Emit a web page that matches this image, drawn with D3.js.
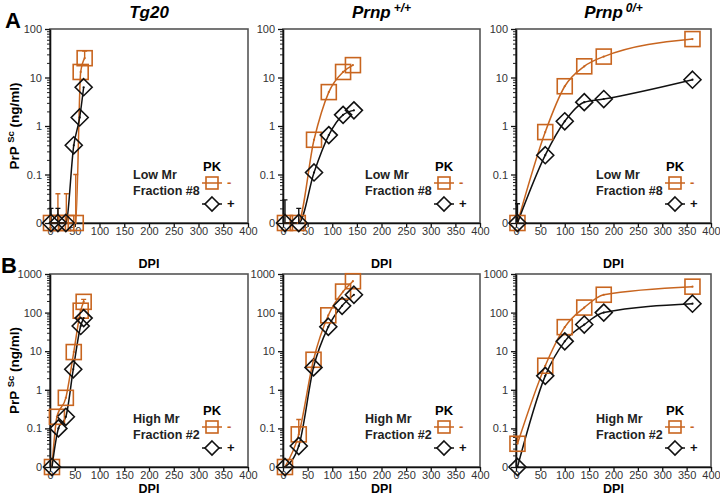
<!DOCTYPE html>
<html>
<head>
  <title></title>
  <style>
    body { margin: 0; background: #fff; }
    text { font-family: Arial, "Liberation Sans", sans-serif; }
  </style>
</head>
<body>
  <svg width="720" height="501"></svg>

  <script src="https://d3js.org/d3.v7.min.js"></script>
  <script>

  // ---- data ----
  var strainNames = ["Tg20", "Prnp", "Prnp"];
  var strainSups = ["", "+/+", "0/+"];
  var fractionNames = ["Low Mr", "High Mr"];
  var fractionNums = ["Fraction #8", "Fraction #2"];
  var rowLetters = ["A", "B"];
  var xTickValues = [0, 50, 100, 150, 200, 250, 300, 350, 400];
  var yTicksLow = [0.01, 0.1, 1, 10, 100];
  var yTicksHigh = [0.01, 0.1, 1, 10, 100, 1000];

  // row A, Low Mr fraction #8   (0 = below detection, drawn on the "0" line)
  var tg20LowMinusDpi = [2, 16, 33, 52, 62, 70];
  var tg20LowMinus    = [0, 0, 0, 0, 13, 25];
  var tg20LowMinusErr = [null, 0.04, 0.04, 0.1, null, 35];
  var tg20LowPlusDpi  = [2, 16, 32, 48, 60, 68];
  var tg20LowPlus     = [0, 0, 0, 0.4, 1.5, 6.3];
  var tg20LowPlusErr  = [0.02, 0.02, null, null, null, null];

  var wtLowMinusDpi = [4, 30, 63, 93, 122, 142];
  var wtLowMinus    = [0, 0, 0.52, 5, 13, 18];
  var wtLowMinusErr = [null, null, null, null, null, null];
  var wtLowPlusDpi  = [4, 32, 63, 93, 122, 144];
  var wtLowPlus     = [0, 0, 0.11, 0.65, 1.7, 2.1];
  var wtLowPlusErr  = [0.03, 0.02, null, null, null, null];

  var hetLowMinusDpi = [3, 60, 100, 140, 180, 362];
  var hetLowMinus    = [0, 0.75, 6.6, 17, 27, 62];
  var hetLowMinusErr = [null, null, null, null, null, null];
  var hetLowPlusDpi  = [3, 60, 100, 140, 180, 362];
  var hetLowPlus     = [0, 0.25, 1.25, 3.1, 3.6, 9];
  var hetLowPlusErr  = [0.025, null, null, null, null, null];

  // row B, High Mr fraction #2
  var tg20HighMinusDpi = [4, 14, 32, 48, 62, 68];
  var tg20HighMinus    = [0, 0.2, 0.62, 9.5, 112, 190];
  var tg20HighMinusErr = [null, null, null, null, null, 220];
  var tg20HighPlusDpi  = [4, 17, 32, 47, 62, 68];
  var tg20HighPlus     = [0, 0.1, 0.2, 3.4, 45, 72];
  var tg20HighPlusErr  = [null, null, null, null, null, null];

  var wtHighMinusDpi = [4, 32, 62, 92, 122, 142];
  var wtHighMinus    = [0, 0.07, 6, 85, 350, 650];
  var wtHighMinusErr = [null, 0.17, null, null, null, null];
  var wtHighPlusDpi  = [4, 32, 62, 92, 120, 144];
  var wtHighPlus     = [0, 0.035, 3.8, 43, 150, 290];
  var wtHighPlusErr  = [null, null, null, null, null, null];

  var hetHighMinusDpi = [3, 60, 100, 140, 180, 362];
  var hetHighMinus    = [0.04, 4.2, 42, 135, 290, 470];
  var hetHighMinusErr = [0.06, null, null, null, null, null];
  var hetHighPlusDpi  = [3, 60, 100, 140, 180, 362];
  var hetHighPlus     = [0, 2.3, 18, 49, 100, 170];
  var hetHighPlusErr  = [null, null, null, null, null, null];

  var orange = "#c8651f";

  var svg = d3.select("svg");

  var rows = [
    { top: 29, bottom: 223, ticks: yTicksLow, dpiY: 268 },
    { top: 274, bottom: 467, ticks: yTicksHigh, dpiY: 493 }
  ];
  var cols = [
    { left: 50, right: 248 },
    { left: 283, right: 480 },
    { left: 516, right: 711 }
  ];

  function series(dpi, val, err) {
    return dpi.map(function(d, i) { return { dpi: d, val: val[i], err: err[i] }; });
  }

  var panels = [
    [ [series(tg20LowMinusDpi, tg20LowMinus, tg20LowMinusErr), series(tg20LowPlusDpi, tg20LowPlus, tg20LowPlusErr)],
      [series(wtLowMinusDpi, wtLowMinus, wtLowMinusErr), series(wtLowPlusDpi, wtLowPlus, wtLowPlusErr)],
      [series(hetLowMinusDpi, hetLowMinus, hetLowMinusErr), series(hetLowPlusDpi, hetLowPlus, hetLowPlusErr)] ],
    [ [series(tg20HighMinusDpi, tg20HighMinus, tg20HighMinusErr), series(tg20HighPlusDpi, tg20HighPlus, tg20HighPlusErr)],
      [series(wtHighMinusDpi, wtHighMinus, wtHighMinusErr), series(wtHighPlusDpi, wtHighPlus, wtHighPlusErr)],
      [series(hetHighMinusDpi, hetHighMinus, hetHighMinusErr), series(hetHighPlusDpi, hetHighPlus, hetHighPlusErr)] ]
  ];

  rows.forEach(function(row, ri) {
    cols.forEach(function(col, ci) {
      drawPanel(row, col, ri, ci, panels[ri][ci]);
    });

    // panel letter
    svg.append("text")
        .attr("x", ri === 0 ? 5 : 1)
        .attr("y", row.top - 1)
        .attr("font-size", 22)
        .attr("font-weight", "bold")
        .text(rowLetters[ri]);

    // y title
    var yt = svg.append("text")
        .attr("transform", "translate(19," + ((row.top + row.bottom) / 2) + ") rotate(-90)")
        .attr("text-anchor", "middle")
        .attr("font-size", 13.5)
        .attr("font-weight", "bold");
    yt.append("tspan").text("PrP ");
    yt.append("tspan").attr("font-size", 9.5).attr("dy", -5).text("Sc");
    yt.append("tspan").attr("dy", 5).text(" (ng/ml)");
  });

  // column titles
  cols.forEach(function(col, ci) {
    var t = svg.append("text")
        .attr("x", (col.left + col.right) / 2)
        .attr("y", 18)
        .attr("text-anchor", "middle")
        .attr("font-size", 17)
        .attr("font-weight", "bold")
        .attr("font-style", "italic");
    t.append("tspan").text(strainNames[ci]);
    if (strainSups[ci]) {
      t.append("tspan").attr("font-size", 12).attr("dy", -6).attr("dx", 3).text(strainSups[ci]);
    }
  });

  function drawPanel(row, col, ri, ci, data) {
    var x = d3.scaleLinear().domain([0, 400]).range([col.left, col.right]);
    var yMax = row.ticks[row.ticks.length - 1];
    var y = d3.scaleLog().domain([0.01, yMax]).range([row.bottom, row.top]);
    var yv = function(v) { return y(Math.max(v, 0.01)); };

    var g = svg.append("g");

    // frame (top and right)
    g.append("rect")
        .attr("x", col.left).attr("y", row.top)
        .attr("width", col.right - col.left).attr("height", row.bottom - row.top)
        .attr("fill", "none").attr("stroke", "#555").attr("stroke-width", 1.6);

    // minor log ticks
    var minors = [];
    for (var e = -2; Math.pow(10, e) < yMax; e++) {
      for (var k = 2; k < 10; k++) minors.push(k * Math.pow(10, e));
    }
    g.append("g")
        .attr("transform", "translate(" + col.left + ",0)")
        .call(d3.axisLeft(y).tickValues(minors).tickSize(3).tickFormat(""))
        .call(function(a) { a.select(".domain").remove(); a.selectAll("line").attr("stroke", "#222"); });

    var yAxis = g.append("g")
        .attr("transform", "translate(" + col.left + ",0)")
        .call(d3.axisLeft(y).tickValues(row.ticks).tickSize(5).tickSizeOuter(0)
          .tickFormat(function(d) { return d < 0.05 ? "0" : String(d); }));
    yAxis.select(".domain").attr("stroke", "#111").attr("stroke-width", 1.6);
    yAxis.selectAll("line").attr("stroke", "#111").attr("stroke-width", 1.3);
    yAxis.selectAll("text").attr("font-size", 11).attr("fill", "#333")
        .attr("font-family", "Arial, 'Liberation Sans', sans-serif");

    var xAxis = g.append("g")
        .attr("transform", "translate(0," + row.bottom + ")")
        .call(d3.axisBottom(x).tickValues(xTickValues).tickSize(4).tickSizeOuter(0));
    xAxis.select(".domain").attr("stroke", "#111").attr("stroke-width", 1.6);
    xAxis.selectAll("line").attr("stroke", "#111").attr("stroke-width", 1.3);
    xAxis.selectAll("text").attr("font-size", 11).attr("fill", "#333").attr("dy", "0.45em")
        .attr("font-family", "Arial, 'Liberation Sans', sans-serif");

    // DPI title
    g.append("text")
        .attr("x", (col.left + col.right) / 2)
        .attr("y", row.dpiY)
        .attr("text-anchor", "middle")
        .attr("font-size", 12.5)
        .attr("font-weight", "bold")
        .text("DPI");

    var line = d3.line()
        .x(function(d) { return x(d.dpi); })
        .y(function(d) { return yv(d.val); })
        .curve(d3.curveMonotoneX);

    var colors = [orange, "#111"];

    data.forEach(function(s, si) {
      g.append("path")
          .datum(s)
          .attr("d", line)
          .attr("fill", "none")
          .attr("stroke", colors[si])
          .attr("stroke-width", 1.5);

      // error bars
      var eb = s.filter(function(d) { return d.err != null; });
      g.selectAll(null).data(eb).enter().append("path")
          .attr("d", function(d) {
            var cx = x(d.dpi), y0 = yv(d.val), y1 = yv(d.err);
            return "M" + cx + "," + y0 + "V" + y1 + "M" + (cx - 2.5) + "," + y1 + "H" + (cx + 2.5);
          })
          .attr("stroke", colors[si])
          .attr("stroke-width", 1.4)
          .attr("fill", "none");
    });

    // markers
    var sq = data[0], dm = data[1];
    g.selectAll(null).data(sq).enter().append("rect")
        .attr("x", function(d) { return x(d.dpi) - 7.5; })
        .attr("y", function(d) { return yv(d.val) - 7.5; })
        .attr("width", 15).attr("height", 15)
        .attr("fill", "none").attr("stroke", orange).attr("stroke-width", 1.6);
    g.selectAll(null).data(dm).enter().append("path")
        .attr("d", function(d) { return diamond(x(d.dpi), yv(d.val), 8.5); })
        .attr("fill", "none").attr("stroke", "#111").attr("stroke-width", 1.6);
    g.selectAll(null).data(sq.concat(dm)).enter().append("circle")
        .attr("cx", function(d) { return x(d.dpi); })
        .attr("cy", function(d) { return yv(d.val); })
        .attr("r", 1.1)
        .attr("fill", function(d, i) { return i < sq.length ? orange : "#111"; });

    // legend
    var mx = col.right - 36, sy = row.bottom - 40, dy = row.bottom - 19;
    g.append("text").attr("x", mx).attr("y", sy - 12).attr("text-anchor", "middle")
        .attr("font-size", 13).attr("font-weight", "bold").text("PK");
    g.append("text").attr("x", mx - 79).attr("y", sy - 4)
        .attr("font-size", 12.5).attr("font-weight", "bold").attr("fill", "#222").text(fractionNames[ri]);
    g.append("text").attr("x", mx - 79).attr("y", sy + 12)
        .attr("font-size", 12.5).attr("font-weight", "bold").attr("fill", "#222").text(fractionNums[ri]);
    g.append("line").attr("x1", mx - 10).attr("x2", mx + 10).attr("y1", sy).attr("y2", sy)
        .attr("stroke", orange).attr("stroke-width", 1.5);
    g.append("rect").attr("x", mx - 6).attr("y", sy - 6).attr("width", 12).attr("height", 12)
        .attr("fill", "none").attr("stroke", orange).attr("stroke-width", 1.6);
    g.append("text").attr("x", mx + 15).attr("y", sy + 4).attr("font-size", 13).attr("font-weight", "bold")
        .attr("fill", orange).text("-");
    g.append("line").attr("x1", mx - 10).attr("x2", mx + 10).attr("y1", dy).attr("y2", dy)
        .attr("stroke", "#111").attr("stroke-width", 1.5);
    g.append("path").attr("d", diamond(mx, dy, 7))
        .attr("fill", "#fff").attr("stroke", "#111").attr("stroke-width", 1.6);
    g.append("text").attr("x", mx + 15).attr("y", dy + 4).attr("font-size", 13).attr("font-weight", "bold")
        .attr("fill", "#111").text("+");
  }

  function diamond(cx, cy, r) {
    return "M" + cx + "," + (cy - r) + "L" + (cx + r) + "," + cy + "L" + cx + "," + (cy + r) + "L" + (cx - r) + "," + cy + "Z";
  }

  </script>
</body>
</html>
